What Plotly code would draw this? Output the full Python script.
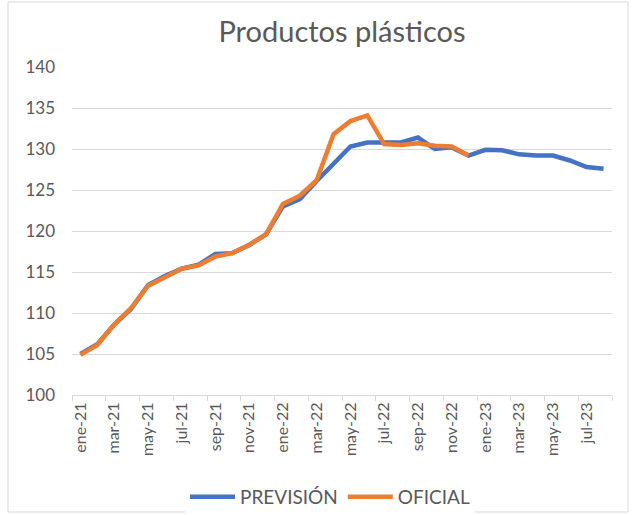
import plotly.graph_objects as go

# month labels ene-21 .. ago-23
MESES = ["ene", "feb", "mar", "abr", "may", "jun", "jul", "ago", "sep", "oct", "nov", "dic"]
labels = [f"{MESES[m]}-{y}" for y in (21, 22, 23) for m in range(12)][:32]

prevision = [105.0, 106.2, 108.6, 110.5, 113.4, 114.5, 115.4, 115.9, 117.2, 117.3, 118.3, 119.6,
             123.0, 123.9, 126.1, 128.2, 130.3, 130.8, 130.8, 130.8, 131.4, 130.0, 130.2, 129.2,
             129.9, 129.85, 129.35, 129.2, 129.2, 128.6, 127.8, 127.6]
oficial = [104.9, 106.1, 108.6, 110.6, 113.3, 114.4, 115.4, 115.8, 116.9, 117.3, 118.3, 119.6,
           123.3, 124.3, 126.2, 131.8, 133.4, 134.1, 130.6, 130.5, 130.7, 130.4, 130.3, 129.2]

BLUE = "#4472C4"
ORANGE = "#ED7D31"
GRID = "#D9D9D9"
TEXT = "#595959"
FONT = "Lato, 'Open Sans', sans-serif"

idx = list(range(len(labels)))

fig = go.Figure()
fig.add_trace(go.Scatter(x=idx, y=prevision, name="PREVISIÓN", mode="lines",
                         line={"color": BLUE, "width": 4.5}))
fig.add_trace(go.Scatter(x=idx[:len(oficial)], y=oficial, name="OFICIAL", mode="lines",
                         line={"color": ORANGE, "width": 4.5}))

# plot area in px: x 72..612, y 67..395
L, R, T, B, W, H = 72, 23, 67, 120, 635, 515
pw, ph = W - L - R, H - T - B

fig.update_layout(
    width=W, height=H,
    margin={"l": L, "r": R, "t": T, "b": B, "pad": 0},
    paper_bgcolor="white", plot_bgcolor="white",
    font={"family": FONT, "color": TEXT, "size": 16},
    title={"text": "Productos plásticos", "x": (L + pw / 2) / W, "xanchor": "center",
           "y": 1 - 32 / H, "yanchor": "middle", "font": {"size": 29, "color": TEXT}},
    xaxis={
        "automargin": False,
        "range": [-0.5, len(labels) - 0.5],
        "tickmode": "array",
        "tickvals": idx[::2],
        "ticktext": labels[::2],
        "tickangle": -90,
        "ticks": "",
        "showgrid": False,
        "showline": True, "linecolor": GRID, "linewidth": 1,
        "zeroline": False,
        "minor": {"tickmode": "array", "tickvals": [i - 0.5 for i in idx[::2]] + [len(labels) - 0.5],
                  "ticks": "outside", "ticklen": 5, "tickcolor": GRID, "showgrid": False},
        "tickfont": {"size": 16, "color": TEXT},
    },
    yaxis={
        "automargin": False,
        "range": [100, 140],
        "dtick": 5,
        "showgrid": True, "gridcolor": GRID, "gridwidth": 1,
        "zeroline": False,
        "showline": False,
        "ticks": "",
        "ticklabelstandoff": 16,
        "tickfont": {"size": 17, "color": TEXT},
    },
    # legend placed against the whole figure so it does not push the bottom margin
    legend={"orientation": "h", "xref": "container", "yref": "container",
            "x": 330 / W, "xanchor": "center", "y": 1 - 497 / H, "yanchor": "middle",
            "font": {"size": 19, "color": TEXT}, "itemwidth": 45},
    shapes=[{"type": "rect", "xref": "paper", "yref": "paper",
             "x0": (8 - L) / pw, "x1": (628 - L) / pw,
             "y0": (ph - (512 - T)) / ph, "y1": (ph - (2 - T)) / ph,
             "line": {"color": GRID, "width": 1}, "fillcolor": "rgba(0,0,0,0)", "layer": "below"}],
    showlegend=True,
)

fig.write_html("out.html", config={"displayModeBar": False},
               post_script="document.body.style.margin='0';")
